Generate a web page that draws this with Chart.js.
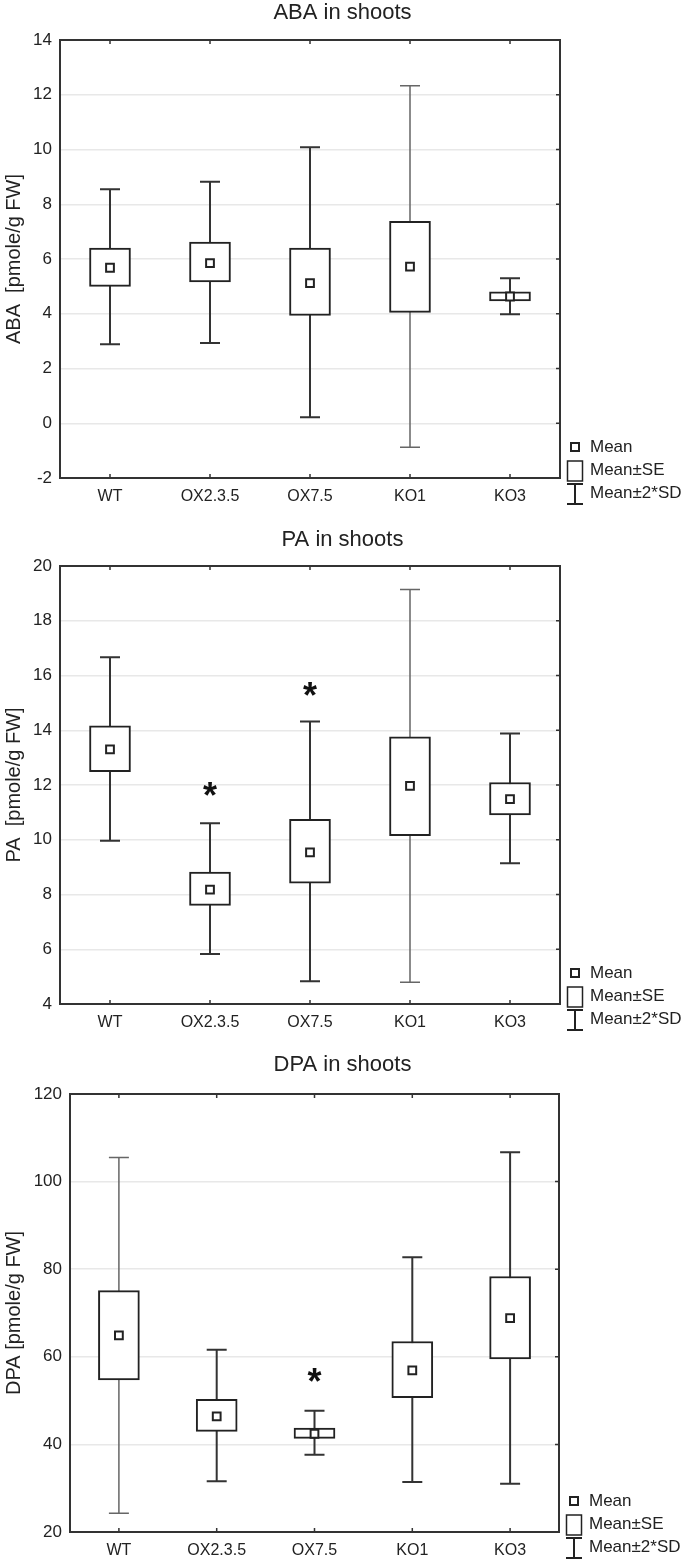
<!DOCTYPE html>
<html>
<head>
<meta charset="utf-8">
<script src="https://cdn.jsdelivr.net/npm/chart.js@4/dist/chart.umd.min.js"></script>
<style>
  body { margin: 0; background: #fff; }
  canvas { position: absolute; left: 0; }
</style>
</head>
<body>
<canvas id="abaChart" width="685" height="520" style="top:0px"></canvas>
<canvas id="paChart" width="685" height="520" style="top:520px"></canvas>
<canvas id="dpaChart" width="685" height="523" style="top:1040px"></canvas>
<script>
// Genotypes on the x axis
const categories = ["WT", "OX2.3.5", "OX7.5", "KO1", "KO3"];

// ABA in shoots
const abaMean = [5.68, 5.85, 5.12, 5.72, 4.63];
const abaSeLow = [5.00, 5.16, 3.94, 4.05, 4.47];
const abaSeHigh = [6.40, 6.62, 6.40, 7.38, 4.80];
const abaSdLow = [2.89, 2.93, 0.22, -0.88, 3.98];
const abaSdHigh = [8.55, 8.82, 10.08, 12.33, 5.30];
const abaStars = [null, null, null, null, null];
const abaTicks = [-2, 0, 2, 4, 6, 8, 10, 12, 14];

// PA in shoots
const paMean = [13.30, 8.18, 9.54, 11.97, 11.48];
const paSeLow = [12.49, 7.60, 8.41, 10.15, 10.91];
const paSeHigh = [14.16, 8.82, 10.75, 13.76, 12.09];
const paSdLow = [9.96, 5.83, 4.83, 4.79, 9.14];
const paSdHigh = [16.67, 10.60, 14.32, 19.14, 13.88];
const paStars = [null, 11.9, 15.56, null, null];
const paTicks = [4, 6, 8, 10, 12, 14, 16, 18, 20];

// DPA in shoots
const dpaMean = [64.87, 46.39, 42.43, 56.88, 68.82];
const dpaSeLow = [54.75, 42.97, 41.37, 50.65, 59.54];
const dpaSeHigh = [75.10, 50.27, 43.73, 63.50, 78.33];
const dpaSdLow = [24.3, 31.6, 37.64, 31.4, 31.03];
const dpaSdHigh = [105.5, 61.6, 47.68, 82.74, 106.7];
const dpaStars = [null, null, 56.1, null, null];
const dpaTicks = [20, 40, 60, 80, 100, 120];

const FONT = "'Liberation Sans', Arial, sans-serif";
const INK = "#222";

// whiskers (mean +- 2*SD) drawn behind the SE boxes, asterisks on top
const whiskerPlugin = {
  id: "whiskers",
  beforeDatasetsDraw(chart, args, opts) {
    const { ctx, scales: { x, y } } = chart;
    ctx.save();
    opts.low.forEach((lo, i) => {
      const px = x.getPixelForValue(i);
      const y1 = y.getPixelForValue(lo);
      const y2 = y.getPixelForValue(opts.high[i]);
      const thin = opts.thin.includes(i);
      ctx.strokeStyle = thin ? "#666" : "#333";
      ctx.lineWidth = thin ? 1.5 : 2;
      ctx.beginPath();
      ctx.moveTo(px, y1); ctx.lineTo(px, y2);
      ctx.moveTo(px - 10, y1); ctx.lineTo(px + 10, y1);
      ctx.moveTo(px - 10, y2); ctx.lineTo(px + 10, y2);
      ctx.stroke();
    });
    ctx.restore();
  },
  afterDatasetsDraw(chart, args, opts) {
    const { ctx, scales: { x, y } } = chart;
    ctx.save();
    ctx.fillStyle = "#111";
    ctx.font = "bold 36px " + FONT;
    ctx.textAlign = "center";
    ctx.textBaseline = "alphabetic";
    opts.stars.forEach((v, i) => {
      if (v === null) return;
      ctx.fillText("*", x.getPixelForValue(i), y.getPixelForValue(v) + 20);
    });
    ctx.restore();
  }
};

// frame, inner tick marks and the legend on the right
const framePlugin = {
  id: "frame",
  afterDraw(chart) {
    const { ctx, chartArea: a, scales: { x, y } } = chart;
    ctx.save();
    ctx.strokeStyle = "#333";
    ctx.lineWidth = 2;
    ctx.strokeRect(a.left, a.top, a.right - a.left, a.bottom - a.top);
    ctx.lineWidth = 1.5;
    ctx.beginPath();
    categories.forEach((c, i) => {
      const px = x.getPixelForValue(i);
      ctx.moveTo(px, a.top); ctx.lineTo(px, a.top + 4);
      ctx.moveTo(px, a.bottom); ctx.lineTo(px, a.bottom - 4);
    });
    y.ticks.forEach(t => {
      const py = y.getPixelForValue(t.value);
      ctx.moveTo(a.right, py); ctx.lineTo(a.right - 4, py);
    });
    ctx.stroke();

    // legend
    const lx = a.right + 15;
    const tx = a.right + 30;
    ctx.strokeStyle = INK;
    ctx.lineWidth = 2;
    ctx.strokeRect(lx - 4, a.bottom - 35, 8, 8);
    ctx.lineWidth = 1.5;
    ctx.strokeRect(lx - 7.5, a.bottom - 17, 15, 20);
    ctx.lineWidth = 2;
    ctx.beginPath();
    ctx.moveTo(lx, a.bottom + 6); ctx.lineTo(lx, a.bottom + 26);
    ctx.moveTo(lx - 8, a.bottom + 6); ctx.lineTo(lx + 8, a.bottom + 6);
    ctx.moveTo(lx - 8, a.bottom + 26); ctx.lineTo(lx + 8, a.bottom + 26);
    ctx.stroke();
    ctx.fillStyle = INK;
    ctx.font = "17px " + FONT;
    ctx.textAlign = "left";
    ctx.textBaseline = "middle";
    ctx.fillText("Mean", tx, a.bottom - 31);
    ctx.fillText("Mean\u00b1SE", tx, a.bottom - 8);
    ctx.fillText("Mean\u00b12*SD", tx, a.bottom + 15);
    ctx.restore();
  }
};

function makePanel(id, p) {
  const ctx = document.getElementById(id).getContext("2d");
  const canvasH = ctx.canvas.height;
  return new Chart(ctx, {
    data: {
      labels: categories,
      datasets: [
        {
          type: "bar",
          data: p.seLow.map((v, i) => [v, p.seHigh[i]]),
          backgroundColor: "#fff",
          borderColor: INK,
          borderWidth: 2,
          borderSkipped: false,
          barThickness: 41,
          grouped: false,
          order: 2
        },
        {
          type: "line",
          data: p.mean,
          showLine: false,
          pointStyle: "rect",
          pointRadius: 5.5,
          pointBackgroundColor: "#fff",
          pointBorderColor: INK,
          pointBorderWidth: 2,
          order: 1
        }
      ]
    },
    options: {
      responsive: false,
      animation: false,
      layout: { padding: 0 },
      plugins: {
        legend: { display: false },
        tooltip: { enabled: false },
        title: {
          display: true,
          text: p.title,
          color: INK,
          font: { family: FONT, size: 22, weight: "normal", lineHeight: 1.2 },
          padding: { top: p.titleY - 13.2, bottom: p.area.top - p.titleY - 13.2 }
        },
        whiskers: { low: p.sdLow, high: p.sdHigh, stars: p.stars, thin: p.thin }
      },
      scales: {
        x: {
          offset: true,
          grid: { display: false },
          border: { display: false },
          ticks: { color: INK, padding: 1, font: { family: FONT, size: 16 } },
          afterFit(s) { s.height = canvasH - p.area.bottom; }
        },
        y: {
          min: p.ticks[0],
          max: p.ticks[p.ticks.length - 1],
          afterBuildTicks(s) { s.ticks = p.ticks.map(v => ({ value: v })); },
          grid: { color: "#e8e8e8", lineWidth: 1.5, drawTicks: false },
          border: { display: false },
          ticks: { color: INK, padding: 8, font: { family: FONT, size: 17 } },
          title: {
            display: true,
            text: p.yTitle,
            color: INK,
            padding: { top: 2, bottom: 0 },
            font: { family: FONT, size: 20 }
          },
          afterFit(s) { s.width = p.area.left; }
        },
        // empty right-hand box that keeps room for the legend
        side: {
          type: "linear",
          position: "right",
          display: true,
          grid: { display: false },
          border: { display: false },
          ticks: { display: false },
          afterFit(s) { s.width = 685 - p.area.right; }
        }
      }
    },
    plugins: [whiskerPlugin, framePlugin]
  });
}

makePanel("abaChart", {
  title: "ABA in shoots", yTitle: "ABA  [pmole/g FW]",
  mean: abaMean, seLow: abaSeLow, seHigh: abaSeHigh, sdLow: abaSdLow, sdHigh: abaSdHigh,
  stars: abaStars, ticks: abaTicks, thin: [3],
  titleY: 13, area: { left: 60, right: 560, top: 40, bottom: 478 }
});
makePanel("paChart", {
  title: "PA in shoots", yTitle: "PA  [pmole/g FW]",
  mean: paMean, seLow: paSeLow, seHigh: paSeHigh, sdLow: paSdLow, sdHigh: paSdHigh,
  stars: paStars, ticks: paTicks, thin: [3],
  titleY: 20, area: { left: 60, right: 560, top: 46, bottom: 484 }
});
makePanel("dpaChart", {
  title: "DPA in shoots", yTitle: "DPA [pmole/g FW]",
  mean: dpaMean, seLow: dpaSeLow, seHigh: dpaSeHigh, sdLow: dpaSdLow, sdHigh: dpaSdHigh,
  stars: dpaStars, ticks: dpaTicks, thin: [0],
  titleY: 25, area: { left: 70, right: 559, top: 54, bottom: 492 }
});
</script>
</body>
</html>
